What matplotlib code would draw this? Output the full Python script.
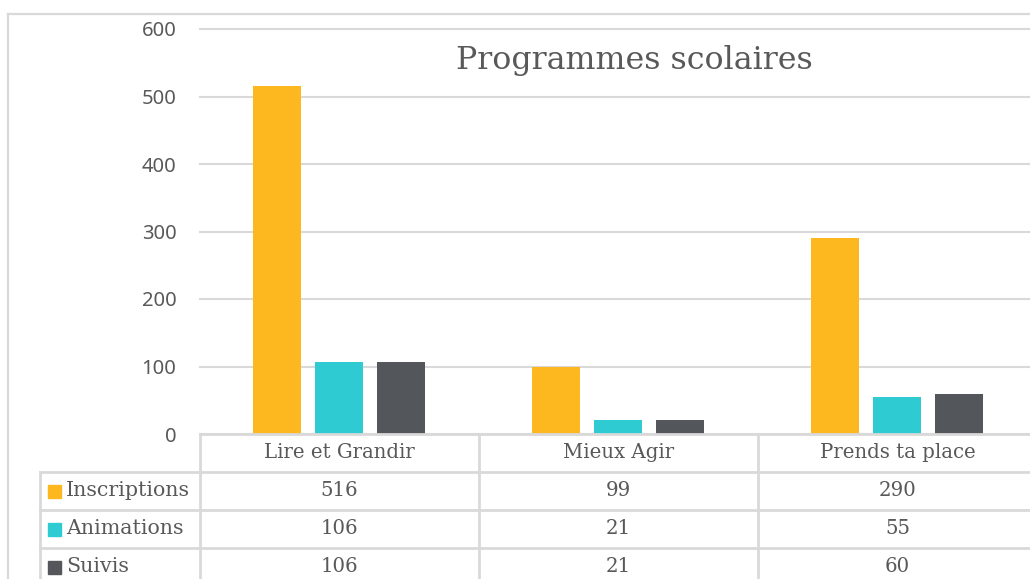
import matplotlib
matplotlib.use("Agg")
import matplotlib.pyplot as plt
import matplotlib.transforms as mtransforms
from matplotlib.lines import Line2D
import numpy as np

categories = ["Lire et Grandir", "Mieux Agir", "Prends ta place"]
series_names = ["Inscriptions", "Animations", "Suivis"]
inscriptions = [516, 99, 290]
animations = [106, 21, 55]
suivis = [106, 21, 60]
colors = ["#FDB71F", "#2ECCD2", "#53565A"]
yticks = [0, 100, 200, 300, 400, 500, 600]
title = "Programmes scolaires"

W, H = 1030, 579
TXT = "#595959"
GRID = "#D9D9D9"
SERIF = "DejaVu Serif"
SANS = "Noto Sans"

fig = plt.figure(figsize=(W / 100, H / 100), dpi=100)

def fx(px):
    return px / W

def fy(py):
    return 1 - py / H

# main plot area
ax_left, ax_right, ax_top, ax_bot = 200, 1037, 29, 434
ax = fig.add_axes([fx(ax_left), fy(ax_bot), fx(ax_right - ax_left), (ax_bot - ax_top) / H])
cat_px = (ax_right - ax_left) / len(categories)
x = np.arange(len(categories))
bw = 48 / cat_px
step = 62 / cat_px
all_series = [inscriptions, animations, suivis]
for k, (vals, c) in enumerate(zip(all_series, colors)):
    ax.bar(x + (k - 1) * step, vals, width=bw, color=c, zorder=3)
ax.set_xlim(-0.5, len(categories) - 0.5)
ax.set_ylim(0, 600)
ax.set_yticks(yticks)
ax.set_yticklabels([str(t) for t in yticks], fontfamily=SANS, fontsize=14.5, color=TXT)
ax.set_xticks([])
ax.tick_params(axis="y", length=0, pad=17)
for s in ax.spines.values():
    s.set_visible(False)
for t in yticks:
    ax.axhline(t, color=GRID, linewidth=1.5, zorder=0, clip_on=False)

# data table
tab_left = 40
label_w = (ax_left - tab_left) / cat_px
row_h = 38
nrows = 1 + len(series_names)
tax = fig.add_axes([fx(tab_left), fy(ax_bot + nrows * row_h), fx(ax_right - tab_left), nrows * row_h / H])
xmin = -0.5 - label_w
xmax = len(categories) - 0.5
tax.set_xlim(xmin, xmax)
tax.set_ylim(nrows, 0)
tax.axis("off")
lw = 2.0
tax.plot([-0.5, xmax], [0, 0], color=GRID, lw=lw, clip_on=False)
for r in range(1, nrows + 1):
    tax.plot([xmin, xmax], [r, r], color=GRID, lw=lw, clip_on=False)
tax.plot([xmin, xmin], [1, nrows], color=GRID, lw=lw, clip_on=False)
for i in range(len(categories)):
    tax.plot([i - 0.5, i - 0.5], [0, nrows], color=GRID, lw=lw, clip_on=False)
tax.plot([xmax, xmax], [0, nrows], color=GRID, lw=lw, clip_on=False)

for i, cat in enumerate(categories):
    tax.text(i, 0.5, cat, ha="center", va="center", fontfamily=SERIF, fontsize=14.2, color=TXT)
for r, (name, vals, c) in enumerate(zip(series_names, all_series, colors), start=1):
    for i, v in enumerate(vals):
        tax.text(i, r + 0.5, str(v), ha="center", va="center", fontfamily=SERIF, fontsize=14.2, color=TXT)
    mk_tr = mtransforms.offset_copy(tax.transData, fig=fig, x=14 * 0.72, y=0, units="points")
    tax.plot([xmin], [r + 0.5], marker="s", markersize=13 * 0.72, color=c, transform=mk_tr, clip_on=False)
    tx_tr = mtransforms.offset_copy(tax.transData, fig=fig, x=26 * 0.72, y=0, units="points")
    tax.text(xmin, r + 0.5, name, ha="left", va="center", fontfamily=SERIF, fontsize=14.8, color=TXT, transform=tx_tr)

# title
fig.text(fx(634), fy(60), title, ha="center", va="center", fontfamily=SERIF, fontsize=22.8, color=TXT)

# chart area border
fig.add_artist(Line2D([fx(8), fx(8)], [fy(14), 0], color=GRID, lw=1.6, transform=fig.transFigure))
fig.add_artist(Line2D([fx(8), 1], [fy(14), fy(14)], color=GRID, lw=1.6, transform=fig.transFigure))

fig.savefig("out.png", dpi=100)
